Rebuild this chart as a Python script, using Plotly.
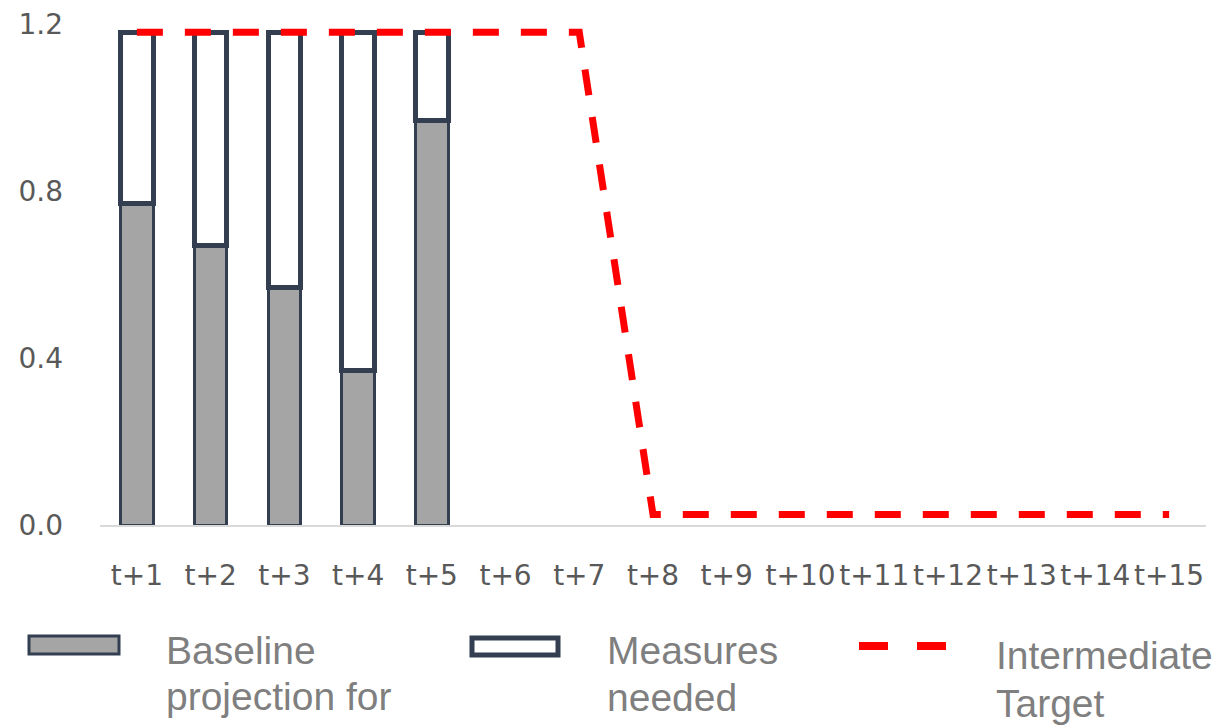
import plotly.graph_objects as go

categories = ["t+1", "t+2", "t+3", "t+4", "t+5", "t+6", "t+7", "t+8",
              "t+9", "t+10", "t+11", "t+12", "t+13", "t+14", "t+15"]
baseline = [0.77, 0.67, 0.57, 0.37, 0.97, None, None, None,
            None, None, None, None, None, None, None]
measures = [0.41, 0.51, 0.61, 0.81, 0.21, None, None, None,
            None, None, None, None, None, None, None]
target = [1.18, 1.18, 1.18, 1.18, 1.18, 1.18, 1.18, 0.025,
          0.025, 0.025, 0.025, 0.025, 0.025, 0.025, 0.025]
y_ticks = [0.0, 0.4, 0.8, 1.2]
y_ticktext = ["0.0", "0.4", "0.8", "1.2"]
legend_lines = [["Baseline", "projection for"], ["Measures", "needed"], ["Intermediate", "Target"]]

OFF = 8  # page body margin offset
W, H = 1229, 728
# target plot area in screen pixels: x 100..1206, y 24..525
L, R, T, B = 100 - OFF, 23 + OFF, 24 - OFF, 203 + OFF
PW, PH = W - L - R, H - T - B

def px(x):
    return (x - OFF - L) / PW

def py(y):
    return (H - B - (y - OFF)) / PH

DARK = "#333F50"
GRAY = "#A5A5A5"
RED = "#FF0000"
TXT = "#7F7F7F"

fig = go.Figure()
fig.add_trace(go.Bar(x=categories, y=baseline, width=0.44,
                     marker=dict(color=GRAY, line=dict(color=DARK, width=3)),
                     name="Baseline projection for"))
fig.add_trace(go.Bar(x=categories, y=measures, width=0.44,
                     marker=dict(color="white", line=dict(color=DARK, width=5)),
                     name="Measures needed"))
fig.add_trace(go.Scatter(x=categories, y=target, mode="lines",
                         line=dict(color=RED, width=7, dash="26px,22px"),
                         name="Intermediate Target"))

shapes = [
    dict(type="rect", xref="paper", yref="paper",
         x0=px(29), x1=px(119), y0=py(636), y1=py(654),
         fillcolor=GRAY, line=dict(color=DARK, width=3)),
    dict(type="rect", xref="paper", yref="paper",
         x0=px(472), x1=px(558), y0=py(638), y1=py(655),
         fillcolor="white", line=dict(color=DARK, width=5)),
    dict(type="line", xref="paper", yref="paper",
         x0=px(859), x1=px(888), y0=py(646), y1=py(646),
         line=dict(color=RED, width=8)),
    dict(type="line", xref="paper", yref="paper",
         x0=px(917), x1=px(946), y0=py(646), y1=py(646),
         line=dict(color=RED, width=8)),
]

annotations = []
positions = [(164, 650, 696), (605, 650, 697), (994, 655, 703)]
for (xl, y1, y2), lines in zip(positions, legend_lines):
    for yy, txt in zip((y1, y2), lines):
        annotations.append(dict(xref="paper", yref="paper", x=px(xl), y=py(yy),
                                xanchor="left", yanchor="middle", showarrow=False,
                                text=txt, font=dict(family="Liberation Sans", size=39, color=TXT)))

fig.update_layout(
    width=W, height=H,
    margin=dict(l=L, r=R, t=T, b=B, autoexpand=False),
    paper_bgcolor="white", plot_bgcolor="white",
    barmode="stack", bargap=0.5,
    showlegend=False,
    shapes=shapes,
    annotations=annotations,
    font=dict(family="DejaVu Sans", size=28, color="#595959"),
)
fig.update_xaxes(type="category", showgrid=False, zeroline=False,
                 showline=True, linecolor="#D9D9D9", linewidth=2,
                 ticks="", ticklabelstandoff=24, ticklabeloverflow="allow",
                 automargin=False,
                 tickfont=dict(family="DejaVu Sans", size=28, color="#595959"))
fig.update_yaxes(range=[0, 1.2], tickvals=y_ticks, ticktext=y_ticktext,
                 showgrid=False, zeroline=False, showline=False, ticks="",
                 ticklabelstandoff=36, ticklabeloverflow="allow",
                 automargin=False,
                 tickfont=dict(family="DejaVu Sans", size=28, color="#595959"))

fig.write_html("out.html")
